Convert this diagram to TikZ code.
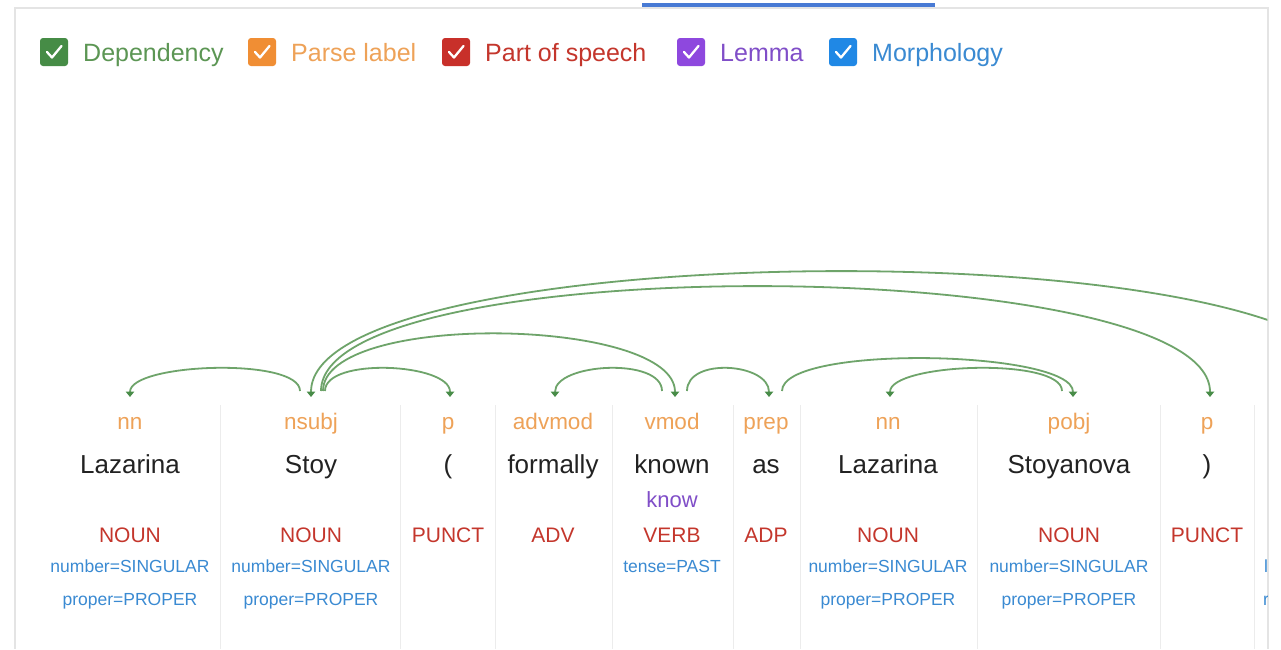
\documentclass[tikz,border=0pt]{standalone}
\usepackage{fontspec}
\setmainfont{Liberation Sans}
\usetikzlibrary{arrows.meta,calc}

\definecolor{framegrey}{RGB}{228,228,228}
\definecolor{sepgrey}{RGB}{236,236,236}
\definecolor{tabblue}{RGB}{72,122,212}
\definecolor{depgreen}{RGB}{70,140,70}
\definecolor{deptext}{RGB}{92,150,84}
\definecolor{arcgreen}{RGB}{110,164,106}
\definecolor{tipgreen}{RGB}{72,140,72}
\definecolor{lblorange}{RGB}{238,162,88}
\definecolor{boxorange}{RGB}{240,142,52}
\definecolor{posred}{RGB}{196,54,44}
\definecolor{boxred}{RGB}{200,48,42}
\definecolor{lempurple}{RGB}{128,78,200}
\definecolor{boxpurple}{RGB}{142,72,222}
\definecolor{morphblue}{RGB}{58,138,210}
\definecolor{boxblue}{RGB}{32,136,229}
\definecolor{wordblack}{RGB}{34,34,34}

\tikzset{
  chkbox/.style={fill=#1, rounded corners=3pt, minimum size=28pt, inner sep=0pt},
  legtext/.style={anchor=base west, inner sep=0pt, text=#1, font=\fontsize{25}{30}\selectfont},
  parselbl/.style={anchor=base, inner sep=0pt, text=lblorange, font=\fontsize{22.5}{27}\selectfont},
  wordtxt/.style={anchor=base, inner sep=0pt, text=wordblack, font=\fontsize{26}{31}\selectfont},
  lemmatxt/.style={anchor=base, inner sep=0pt, text=lempurple, font=\fontsize{22}{26}\selectfont},
  postxt/.style={anchor=base, inner sep=0pt, text=posred, font=\fontsize{21}{25}\selectfont},
  morphtxt/.style={anchor=base, inner sep=0pt, text=morphblue, font=\fontsize{17.5}{21}\selectfont},
  deparc/.style={draw=arcgreen, line width=1.8pt,
    -{Triangle[width=8.5pt,length=5.5pt,fill=tipgreen,color=tipgreen]}},
  colsep/.style={draw=sepgrey, line width=1pt},
}

\begin{document}
\begin{tikzpicture}[x=1pt,y=-1pt]
\useasboundingbox (0,0) rectangle (1281,649);
\fill[white] (0,0) rectangle (1281,649);

% panel frame and active tab bar
\draw[framegrey, line width=1.2pt] (15,649) -- (15,8) -- (1268,8) -- (1268,649);
\fill[tabblue] (642,2.5) rectangle (935,6.5);

% legend
\foreach \n/\x/\bc/\tc/\t in {1/54/depgreen/deptext/Dependency,
                               2/262/boxorange/lblorange/Parse label,
                               3/456/boxred/posred/Part of speech,
                               4/691/boxpurple/lempurple/Lemma,
                               5/843/boxblue/morphblue/Morphology}{
  \node[chkbox=\bc] (cb\n) at (\x,52) {};
  \draw[white, line width=2.3pt, line cap=round, line join=round]
    ($(cb\n.center)+(-7,0)$) -- ($(cb\n.center)+(-2,5.5)$) -- ($(cb\n.center)+(7.5,-6)$);
  \node[legtext=\tc] (lg\n) at (\x+29,61) {\t};
}

% column separators
\foreach \x in {220,400,495,612,733,800,977,1160,1254}
  \draw[colsep] (\x,405) -- (\x,649);

% token columns: parse label, word, part of speech
\foreach \n/\x/\lab/\w/\p in {1/130/nn/Lazarina/NOUN,
                              2/311/nsubj/Stoy/NOUN,
                              3/448/p/{(}/PUNCT,
                              4/553/advmod/formally/ADV,
                              5/672/vmod/known/VERB,
                              6/766/prep/as/ADP,
                              7/888/nn/Lazarina/NOUN,
                              8/1069/pobj/Stoyanova/NOUN,
                              9/1207/p/{)}/PUNCT}{
  \node[parselbl] (lab\n) at (\x,429) {\lab};
  \node[wordtxt] (w\n) at (\x,473) {\w};
  \node[postxt] (pos\n) at (\x,542) {\p};
}

% lemma
\node[lemmatxt] (lem5) at (672,507) {know};

% morphology
\node[morphtxt] (m1a) at (130,572) {number=SINGULAR};
\node[morphtxt] (m1b) at (130,605) {proper=PROPER};
\node[morphtxt] (m2a) at (311,572) {number=SINGULAR};
\node[morphtxt] (m2b) at (311,605) {proper=PROPER};
\node[morphtxt] (m5a) at (672,572) {tense=PAST};
\node[morphtxt] (m7a) at (888,572) {number=SINGULAR};
\node[morphtxt] (m7b) at (888,605) {proper=PROPER};
\node[morphtxt] (m8a) at (1069,572) {number=SINGULAR};
\node[morphtxt] (m8b) at (1069,605) {proper=PROPER};

% arc end points (arrow tips) and start points
\coordinate (in1) at (130,397);
\coordinate (in2) at (311,397);
\coordinate (in3) at (450,397);
\coordinate (in4) at (555,397);
\coordinate (in5) at (675,397);
\coordinate (in6) at (769,397);
\coordinate (in7) at (890,397);
\coordinate (in8) at (1073,397);
\coordinate (in9) at (1210,397);
\coordinate (out2l) at (300,391);
\coordinate (out2a) at (321,391);
\coordinate (out2b) at (323,391);
\coordinate (out2c) at (325,391);
\coordinate (out5l) at (662,391);
\coordinate (out5r) at (687,391);
\coordinate (out6) at (782,391);
\coordinate (out8) at (1062,391);
\coordinate (root) at (1355,391);

\begin{scope}
\clip (15,0) rectangle (1267.4,649);
\draw[deparc] (out2l) .. controls +(0,-34) and +(0,-34) .. (in1);
\draw[deparc] (out2c) .. controls +(0,-34) and +(0,-34) .. (in3);
\draw[deparc] (out2b) .. controls +(0,-80) and +(0,-80) .. (in5);
\draw[deparc] (out2a) .. controls +(0,-143) and +(0,-143) .. (in9);
\draw[deparc] (root) .. controls +(0,-163) and +(0,-163) .. (in2);
\draw[deparc] (out5l) .. controls +(0,-34) and +(0,-34) .. (in4);
\draw[deparc] (out5r) .. controls +(0,-34) and +(0,-34) .. (in6);
\draw[deparc] (out6) .. controls +(0,-47) and +(0,-47) .. (in8);
\draw[deparc] (out8) .. controls +(0,-34) and +(0,-34) .. (in7);
% clipped glyphs of the next column
\node[morphtxt, anchor=base west] (m10a) at (1264,572) {l};
\node[morphtxt, anchor=base west] (m10b) at (1263,605) {r};
\end{scope}
\end{tikzpicture}
\end{document}
